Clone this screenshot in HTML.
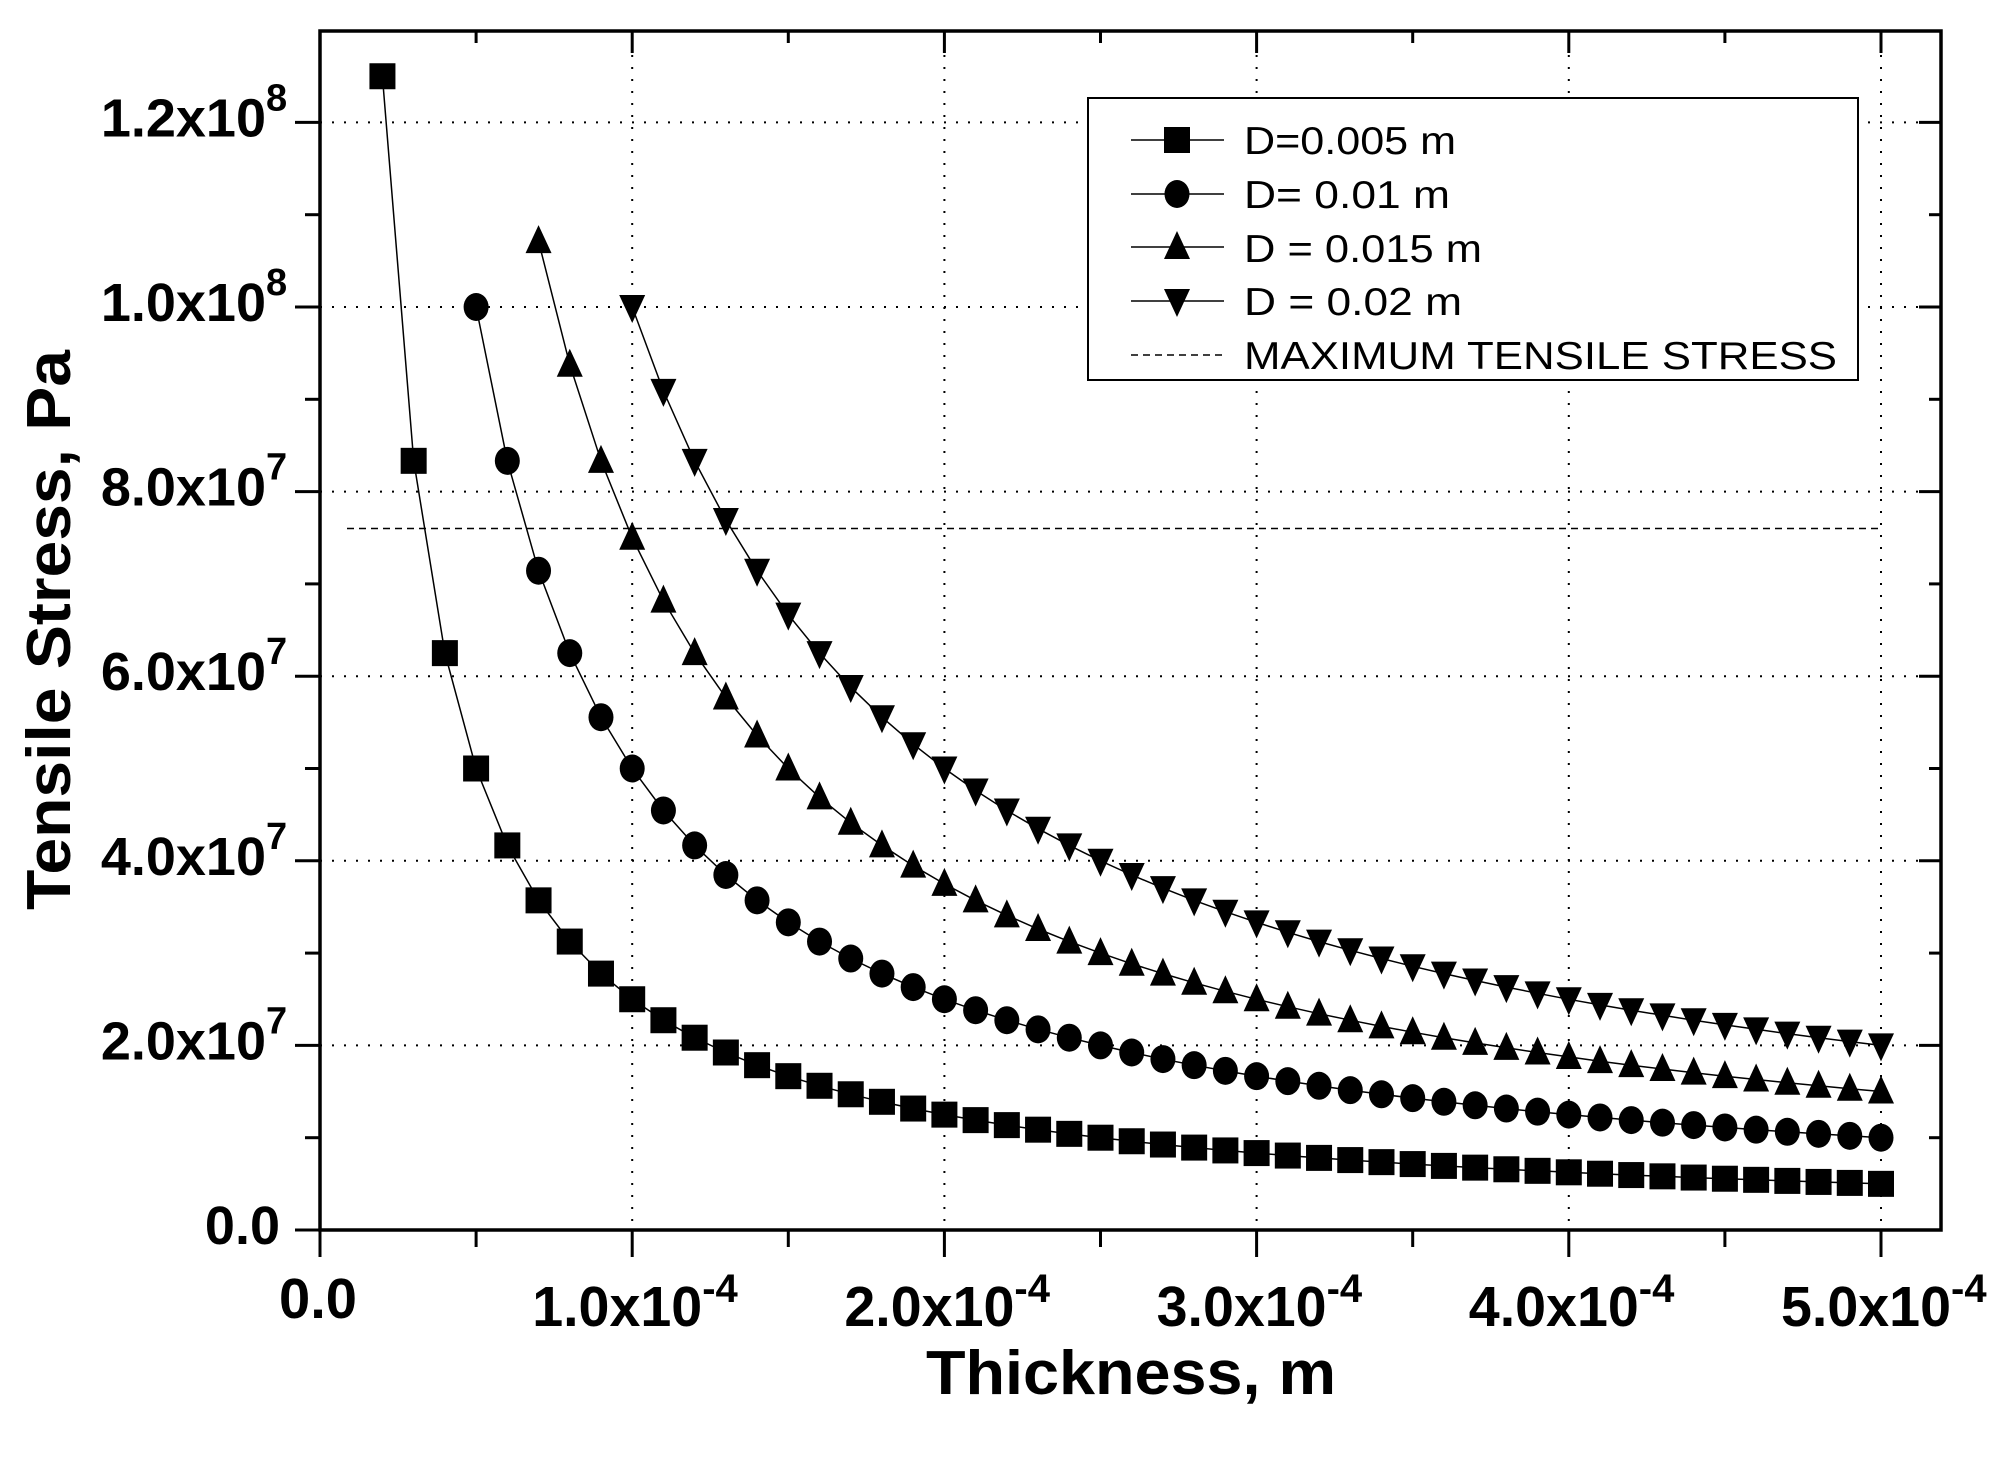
<!DOCTYPE html>
<html><head><meta charset="utf-8">
<style>html,body{margin:0;padding:0;background:#fff}svg{display:block}</style>
</head><body>
<svg id="c" width="2000" height="1460" viewBox="0 0 2000 1460" xmlns="http://www.w3.org/2000/svg" font-family="Liberation Sans, Arial, sans-serif">
<rect width="2000" height="1460" fill="#fff"/>
<g id="g"></g>
<rect x="320" y="31" width="1621" height="1199" fill="none" stroke="#000" stroke-width="3.5"/>
<rect x="1088" y="98" width="770" height="282" fill="#fff" stroke="#000" stroke-width="2"/>
<g font-size="39" fill="#000">
<text x="1244" y="154" textLength="212" lengthAdjust="spacingAndGlyphs">D=0.005 m</text>
<text x="1244" y="208" textLength="206" lengthAdjust="spacingAndGlyphs">D= 0.01 m</text>
<text x="1244" y="262" textLength="238" lengthAdjust="spacingAndGlyphs">D = 0.015 m</text>
<text x="1244" y="315" textLength="218" lengthAdjust="spacingAndGlyphs">D = 0.02 m</text>
<text x="1244" y="369" textLength="593" lengthAdjust="spacingAndGlyphs">MAXIMUM TENSILE STRESS</text>
</g>
<g id="leg"></g>
<text x="1131" y="1394" font-size="62" font-weight="bold" text-anchor="middle" textLength="410" lengthAdjust="spacingAndGlyphs">Thickness, m</text>
<text transform="translate(70,630) rotate(-90)" font-size="62" font-weight="bold" text-anchor="middle" textLength="560" lengthAdjust="spacingAndGlyphs">Tensile Stress, Pa</text>
<g id="lab" font-weight="bold"></g>
</svg>
<script>
var NS="http://www.w3.org/2000/svg";
function X(t){return 320+t*3.122e6;}
function Y(s){return 1230-s*9.23e-6;}
function el(p,n,a,txt){var e=document.createElementNS(NS,n);for(var k in a)e.setAttribute(k,a[k]);if(txt!=null)e.textContent=txt;p.appendChild(e);return e;}
var g=document.getElementById('g'),lab=document.getElementById('lab'),leg=document.getElementById('leg');
for(var i=1;i<=5;i++){var x=X(i*1e-4);el(g,'line',{x1:x,y1:31,x2:x,y2:1230,stroke:'#000','stroke-width':2,'stroke-dasharray':'2 10'});}
for(var i=1;i<=6;i++){var y=Y(i*2e7);el(g,'line',{x1:320,y1:y,x2:1941,y2:y,stroke:'#000','stroke-width':2,'stroke-dasharray':'2 10'});}
for(var i=0;i<=10;i++){var x=X(i*0.5e-4),maj=i%2==0;
 el(g,'line',{x1:x,y1:1230,x2:x,y2:1230+(maj?27:17),stroke:'#000','stroke-width':3});
 el(g,'line',{x1:x,y1:31,x2:x,y2:31+(maj?22:12),stroke:'#000','stroke-width':3});}
for(var i=0;i<=12;i++){var y=Y(i*1e7),maj=i%2==0;
 el(g,'line',{x1:320,y1:y,x2:320-(maj?25:15),y2:y,stroke:'#000','stroke-width':3});
 el(g,'line',{x1:1941,y1:y,x2:1941-(maj?22:12),y2:y,stroke:'#000','stroke-width':3});}
var xl=['0.0','1.0','2.0','3.0','4.0','5.0'];
for(var i=0;i<=5;i++){var x=X(i*1e-4);
 if(i==0){el(lab,'text',{x:x-2,y:1318,'font-size':57,'text-anchor':'middle',textLength:78,lengthAdjust:'spacingAndGlyphs'},'0.0');}
 else{el(lab,'text',{x:x-100,y:1326,'font-size':57,textLength:170,lengthAdjust:'spacingAndGlyphs'},xl[i]+'x10');
  el(lab,'text',{x:x+70,y:1302,'font-size':40},'-4');}}
for(var i=0;i<=6;i++){var y=Y(i*2e7);
 if(i==0){el(lab,'text',{x:280,y:y+14,'font-size':54,'text-anchor':'end'},'0.0');}
 else{var m=(i==6?'1.2':(i==5?'1.0':(2*i)+'.0'));var e=(i>=5?'8':'7');
  el(lab,'text',{x:266,y:y+14,'font-size':54,'text-anchor':'end'},m+'x10');
  el(lab,'text',{x:266,y:y-12,'font-size':38},e);}}
el(g,'line',{x1:347,y1:Y(7.6e7),x2:X(5e-4),y2:Y(7.6e7),stroke:'#000','stroke-width':1.5,'stroke-dasharray':'7 5'});
function marker(p,type,x,y){var r=13;
 if(type==0)el(p,'rect',{x:x-r,y:y-r,width:2*r,height:2*r,fill:'#000'});
 else if(type==1)el(p,'ellipse',{cx:x,cy:y,rx:12.5,ry:14,fill:'#000'});
 else if(type==2)el(p,'polygon',{points:(x-13)+','+(y+12)+' '+(x+13)+','+(y+12)+' '+x+','+(y-16),fill:'#000'});
 else el(p,'polygon',{points:(x-13)+','+(y-12)+' '+(x+13)+','+(y-12)+' '+x+','+(y+16),fill:'#000'});}
var Ds=[0.005,0.01,0.015,0.02],st=[2,5,7,10];
for(var s=0;s<4;s++){var pts=[],xs=[];
 for(var k=st[s];k<=50;k++){var t=k*1e-5,v=5e5*Ds[s]/t;pts.push(X(t).toFixed(1)+','+Y(v).toFixed(1));xs.push([X(t),Y(v)]);}
 el(g,'polyline',{points:pts.join(' '),fill:'none',stroke:'#000','stroke-width':1.5});
 for(var j=0;j<xs.length;j++)marker(g,s,xs[j][0],xs[j][1]);}
var ly=[140,194,247,301];
for(var s=0;s<4;s++){el(leg,'line',{x1:1131,y1:ly[s],x2:1224,y2:ly[s],stroke:'#000','stroke-width':1.5});marker(leg,s,1177,ly[s]);}
el(leg,'line',{x1:1131,y1:355,x2:1224,y2:355,stroke:'#000','stroke-width':1.5,'stroke-dasharray':'7 5'});
</script>
</body></html>
